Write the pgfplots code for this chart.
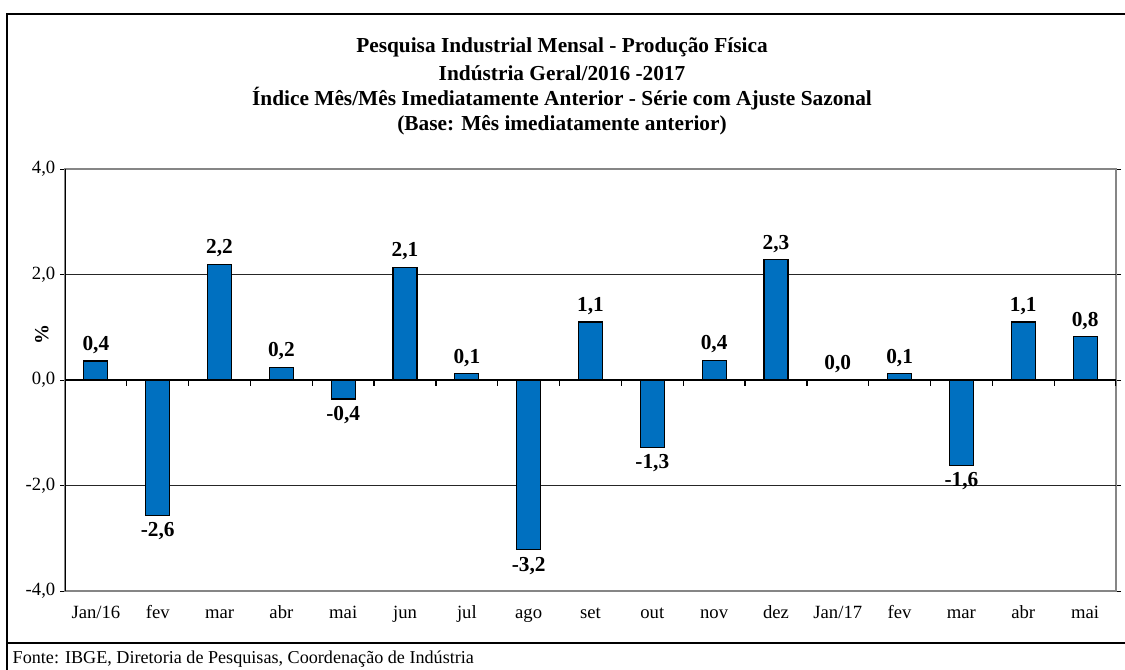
\documentclass[border=0pt]{standalone}
\usepackage{pgfplots}
\pgfplotsset{compat=1.18}
\usepackage{fontspec}
\setmainfont{Liberation Serif}
\definecolor{barblue}{HTML}{0070C0}
\definecolor{framegray}{HTML}{868686}

\begin{document}
\begin{tikzpicture}
\begin{scope}[x=0.75pt,y=-0.75pt]
  \useasboundingbox (0,0) rectangle (1125,669);
  \draw[line width=1.5pt] (7,700) -- (7,14) -- (1140,14);
  \draw[line width=1.5pt] (7,643) -- (1140,643);
  \begin{scope}[font=\bfseries\fontsize{16}{19}\selectfont]
    \node at (562,47) {Pesquisa Industrial Mensal - Produção Física};
    \node at (562,73) {Indústria Geral/2016 -2017};
    \node at (562,99) {Índice Mês/Mês Imediatamente Anterior - Série com Ajuste Sazonal};
    \node at (562,125) {(Base: Mês imediatamente anterior)};
  \end{scope}
  \node[anchor=west, font=\fontsize{13.6}{16}\selectfont] at (8,659) {Fonte: IBGE, Diretoria de Pesquisas, Coordenação de Indústria};
\end{scope}
\begin{axis}[
    at={(48.75pt,-443.25pt)}, anchor=south west,
    width=788.25pt, height=316.5pt, scale only axis,
    ybar, bar width=18pt,
    xmin=-0.5, xmax=16.5,
    ymin=-4, ymax=4,
    ytick={-4,-2,0,2,4},
    xtick={0,...,16},
    xticklabels={Jan/16,fev,mar,abr,mai,jun,jul,ago,set,out,nov,dez,Jan/17,fev,mar,abr,mai},
    major x tick style={draw=none},
    ytick style={black},
    tick align=outside,
    major tick length=3.75pt,
    axis line style={framegray, line width=1pt},
    ylabel={\textbf{\%}},
    ylabel style={at={(axis description cs:-0.022,0.607)}, anchor=center},
    tick label style={font=\fontsize{14}{16}\selectfont},
    label style={font=\fontsize{15}{17}\selectfont},
    xticklabel style={yshift=-6pt, text height=1.6ex, text depth=0.4ex},
    /pgf/number format/assume math mode=true,
    yticklabel style={/pgf/number format/.cd, fixed, fixed zerofill, precision=1, use comma},
    nodes near coords,
    nodes near coords align={vertical},
    every node near coord/.append style={font=\bfseries\fontsize{16}{18}\selectfont, black, inner sep=5pt,
      /pgf/number format/.cd, fixed, fixed zerofill, precision=1, use comma},
]
\draw[black!85, line width=1pt] (axis cs:-0.5,2) -- (axis cs:16.5,2);
\draw[black!85, line width=1pt] (axis cs:-0.5,-2) -- (axis cs:16.5,-2);
\addplot[fill=barblue, draw=black, line width=0.8pt] coordinates {
  (0,0.36) (1,-2.56) (2,2.19) (3,0.24) (4,-0.36) (5,2.14) (6,0.12) (7,-3.22) (8,1.10)
  (9,-1.28) (10,0.37) (11,2.28) (12,0.0) (13,0.12) (14,-1.62) (15,1.10) (16,0.82)
};
\draw[black, line width=1pt] (axis cs:-0.5,0) -- (axis cs:16.5,0);
\foreach \t in {-0.5,0.5,1.5,2.5,3.5,4.5,5.5,6.5,7.5,8.5,9.5,10.5,11.5,12.5,13.5,14.5,15.5,16.5}{
  \edef\tmp{\noexpand\draw[black, line width=1pt] (axis cs:\t,0) -- ++(0pt,-4.5pt);}\tmp
}
\draw[black, line width=1pt] (rel axis cs:0,0) -- (rel axis cs:0,1);
\end{axis}
\end{tikzpicture}
\end{document}
